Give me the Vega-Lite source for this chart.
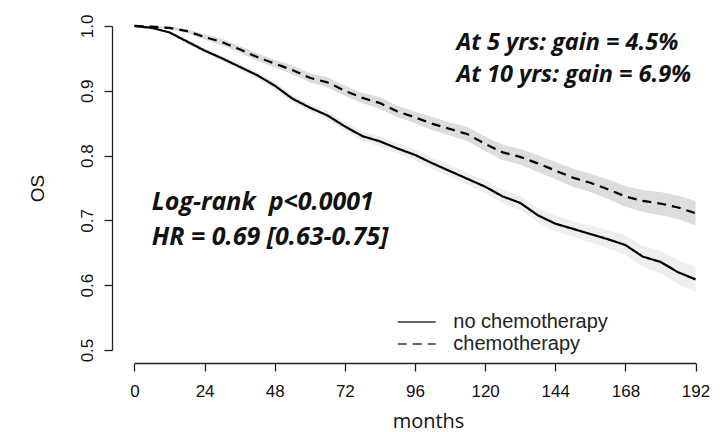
{
  "$schema": "https://vega.github.io/schema/vega-lite/v6.json",
  "width": 606,
  "height": 350,
  "autosize": {"type": "none"},
  "padding": {"left": 112, "top": 13, "right": 10, "bottom": 69},
  "background": "white",
  "config": {
    "view": {"stroke": null},
    "axis": {
      "grid": false,
      "domainColor": "#222",
      "domainWidth": 1.3,
      "tickColor": "#222",
      "tickWidth": 1.3,
      "tickSize": 8,
      "labelFont": "Liberation Sans",
      "labelFontSize": 17,
      "labelColor": "#111",
      "titleColor": "#111",
      "titleFontWeight": "normal"
    }
  },
  "datasets": {
    "km": [
      {"group": "no chemotherapy", "month": 0, "os": 1.0, "lo": 1.0, "hi": 1.0},
      {"group": "no chemotherapy", "month": 6, "os": 0.997, "lo": 0.996, "hi": 0.998},
      {"group": "no chemotherapy", "month": 12, "os": 0.990, "lo": 0.988, "hi": 0.992},
      {"group": "no chemotherapy", "month": 18, "os": 0.976, "lo": 0.973, "hi": 0.979},
      {"group": "no chemotherapy", "month": 24, "os": 0.962, "lo": 0.958, "hi": 0.966},
      {"group": "no chemotherapy", "month": 30, "os": 0.950, "lo": 0.946, "hi": 0.954},
      {"group": "no chemotherapy", "month": 36, "os": 0.937, "lo": 0.932, "hi": 0.942},
      {"group": "no chemotherapy", "month": 42, "os": 0.924, "lo": 0.919, "hi": 0.929},
      {"group": "no chemotherapy", "month": 48, "os": 0.908, "lo": 0.902, "hi": 0.914},
      {"group": "no chemotherapy", "month": 54, "os": 0.888, "lo": 0.882, "hi": 0.894},
      {"group": "no chemotherapy", "month": 60, "os": 0.874, "lo": 0.868, "hi": 0.880},
      {"group": "no chemotherapy", "month": 66, "os": 0.862, "lo": 0.855, "hi": 0.869},
      {"group": "no chemotherapy", "month": 72, "os": 0.845, "lo": 0.838, "hi": 0.852},
      {"group": "no chemotherapy", "month": 78, "os": 0.830, "lo": 0.823, "hi": 0.837},
      {"group": "no chemotherapy", "month": 84, "os": 0.822, "lo": 0.814, "hi": 0.830},
      {"group": "no chemotherapy", "month": 90, "os": 0.811, "lo": 0.803, "hi": 0.819},
      {"group": "no chemotherapy", "month": 96, "os": 0.801, "lo": 0.793, "hi": 0.809},
      {"group": "no chemotherapy", "month": 102, "os": 0.788, "lo": 0.779, "hi": 0.797},
      {"group": "no chemotherapy", "month": 108, "os": 0.776, "lo": 0.767, "hi": 0.785},
      {"group": "no chemotherapy", "month": 114, "os": 0.764, "lo": 0.755, "hi": 0.773},
      {"group": "no chemotherapy", "month": 120, "os": 0.752, "lo": 0.742, "hi": 0.762},
      {"group": "no chemotherapy", "month": 126, "os": 0.737, "lo": 0.727, "hi": 0.747},
      {"group": "no chemotherapy", "month": 132, "os": 0.727, "lo": 0.716, "hi": 0.738},
      {"group": "no chemotherapy", "month": 138, "os": 0.708, "lo": 0.697, "hi": 0.719},
      {"group": "no chemotherapy", "month": 144, "os": 0.695, "lo": 0.683, "hi": 0.707},
      {"group": "no chemotherapy", "month": 150, "os": 0.687, "lo": 0.675, "hi": 0.699},
      {"group": "no chemotherapy", "month": 156, "os": 0.679, "lo": 0.666, "hi": 0.692},
      {"group": "no chemotherapy", "month": 162, "os": 0.671, "lo": 0.657, "hi": 0.685},
      {"group": "no chemotherapy", "month": 168, "os": 0.662, "lo": 0.647, "hi": 0.677},
      {"group": "no chemotherapy", "month": 174, "os": 0.644, "lo": 0.628, "hi": 0.660},
      {"group": "no chemotherapy", "month": 180, "os": 0.636, "lo": 0.619, "hi": 0.653},
      {"group": "no chemotherapy", "month": 186, "os": 0.620, "lo": 0.602, "hi": 0.638},
      {"group": "no chemotherapy", "month": 192, "os": 0.609, "lo": 0.590, "hi": 0.628},
      {"group": "chemotherapy", "month": 0, "os": 1.0, "lo": 1.0, "hi": 1.0},
      {"group": "chemotherapy", "month": 6, "os": 0.999, "lo": 0.998, "hi": 1.0},
      {"group": "chemotherapy", "month": 12, "os": 0.997, "lo": 0.995, "hi": 0.999},
      {"group": "chemotherapy", "month": 18, "os": 0.992, "lo": 0.989, "hi": 0.995},
      {"group": "chemotherapy", "month": 24, "os": 0.983, "lo": 0.979, "hi": 0.987},
      {"group": "chemotherapy", "month": 30, "os": 0.975, "lo": 0.970, "hi": 0.980},
      {"group": "chemotherapy", "month": 36, "os": 0.964, "lo": 0.959, "hi": 0.969},
      {"group": "chemotherapy", "month": 42, "os": 0.952, "lo": 0.946, "hi": 0.958},
      {"group": "chemotherapy", "month": 48, "os": 0.942, "lo": 0.936, "hi": 0.948},
      {"group": "chemotherapy", "month": 54, "os": 0.932, "lo": 0.925, "hi": 0.939},
      {"group": "chemotherapy", "month": 60, "os": 0.920, "lo": 0.913, "hi": 0.927},
      {"group": "chemotherapy", "month": 66, "os": 0.913, "lo": 0.905, "hi": 0.921},
      {"group": "chemotherapy", "month": 72, "os": 0.900, "lo": 0.892, "hi": 0.908},
      {"group": "chemotherapy", "month": 78, "os": 0.889, "lo": 0.881, "hi": 0.897},
      {"group": "chemotherapy", "month": 84, "os": 0.881, "lo": 0.872, "hi": 0.890},
      {"group": "chemotherapy", "month": 90, "os": 0.868, "lo": 0.859, "hi": 0.877},
      {"group": "chemotherapy", "month": 96, "os": 0.859, "lo": 0.850, "hi": 0.868},
      {"group": "chemotherapy", "month": 102, "os": 0.849, "lo": 0.839, "hi": 0.859},
      {"group": "chemotherapy", "month": 108, "os": 0.841, "lo": 0.831, "hi": 0.851},
      {"group": "chemotherapy", "month": 114, "os": 0.833, "lo": 0.822, "hi": 0.844},
      {"group": "chemotherapy", "month": 120, "os": 0.818, "lo": 0.807, "hi": 0.829},
      {"group": "chemotherapy", "month": 126, "os": 0.805, "lo": 0.793, "hi": 0.817},
      {"group": "chemotherapy", "month": 132, "os": 0.798, "lo": 0.786, "hi": 0.810},
      {"group": "chemotherapy", "month": 138, "os": 0.788, "lo": 0.775, "hi": 0.801},
      {"group": "chemotherapy", "month": 144, "os": 0.777, "lo": 0.764, "hi": 0.790},
      {"group": "chemotherapy", "month": 150, "os": 0.766, "lo": 0.752, "hi": 0.780},
      {"group": "chemotherapy", "month": 156, "os": 0.758, "lo": 0.744, "hi": 0.772},
      {"group": "chemotherapy", "month": 162, "os": 0.748, "lo": 0.733, "hi": 0.763},
      {"group": "chemotherapy", "month": 168, "os": 0.737, "lo": 0.721, "hi": 0.753},
      {"group": "chemotherapy", "month": 174, "os": 0.730, "lo": 0.713, "hi": 0.747},
      {"group": "chemotherapy", "month": 180, "os": 0.726, "lo": 0.708, "hi": 0.744},
      {"group": "chemotherapy", "month": 186, "os": 0.720, "lo": 0.702, "hi": 0.738},
      {"group": "chemotherapy", "month": 192, "os": 0.711, "lo": 0.692, "hi": 0.730}
    ],
    "notes": [
      {"note": "At 5 yrs: gain = 4.5%"},
      {"note": "At 10 yrs: gain = 6.9%"},
      {"note": "Log-rank\u00a0 p<0.0001"},
      {"note": "HR = 0.69 [0.63-0.75]"}
    ]
  },
  "data": {"name": "km"},
  "layer": [
    {
      "transform": [{"filter": "datum.group === 'no chemotherapy'"}],
      "mark": {"type": "area", "color": "#eeeeee", "opacity": 1},
      "encoding": {
        "x": {
          "field": "month",
          "type": "quantitative",
          "scale": {"domain": [-7.68, 199.68], "nice": false, "zero": false},
          "axis": {
            "title": "months",
            "values": [0, 12, 24, 36, 48, 60, 72, 84, 96, 108, 120, 132, 144, 156, 168, 180, 192],
            "labelExpr": "datum.value % 24 === 0 ? datum.label : ''",
            "labelBaseline": "alphabetic",
            "labelPadding": 25,
            "labelFlush": false,
            "labelOverlap": false,
            "domainDash": [0, 22.45, 561.1, 200],
            "titleFont": "Open Sans",
            "titleFontSize": 20,
            "titleBaseline": "alphabetic",
            "titleX": 316,
            "titleY": 64
          }
        },
        "y": {
          "field": "lo",
          "type": "quantitative",
          "scale": {"domain": [0.48, 1.02], "nice": false, "zero": false},
          "axis": {
            "title": "OS",
            "values": [0.5, 0.6, 0.7, 0.8, 0.9, 1.0],
            "format": ".1f",
            "labelAngle": -90,
            "labelAlign": "center",
            "labelBaseline": "alphabetic",
            "labelPadding": 12,
            "labelFlush": false,
            "labelOverlap": false,
            "domainDash": [0, 12.96, 324.1, 200],
            "titleFont": "Liberation Sans",
            "titleFontSize": 19,
            "titleAngle": -90,
            "titleAlign": "center",
            "titleBaseline": "alphabetic",
            "titleX": -69,
            "titleY": 175
          }
        },
        "y2": {"field": "hi"}
      }
    },
    {
      "transform": [{"filter": "datum.group === 'chemotherapy'"}],
      "mark": {"type": "area", "color": "#dddddd", "opacity": 1},
      "encoding": {
        "x": {"field": "month", "type": "quantitative", "title": "months"},
        "y": {"field": "lo", "type": "quantitative", "title": "OS"},
        "y2": {"field": "hi"}
      }
    },
    {
      "mark": {"type": "line", "color": "black", "strokeWidth": 2.2},
      "encoding": {
        "x": {"field": "month", "type": "quantitative", "title": "months"},
        "y": {"field": "os", "type": "quantitative", "title": "OS"},
        "strokeDash": {
          "field": "group",
          "type": "nominal",
          "scale": {"domain": ["no chemotherapy", "chemotherapy"], "range": [[1, 0], [9, 6]]},
          "legend": {
            "title": null,
            "orient": "none",
            "legendX": 294.7,
            "legendY": 299,
            "padding": 0,
            "symbolType": "M-3,0H3",
            "symbolSize": 160,
            "symbolStrokeWidth": 1.5,
            "symbolStrokeColor": "#333",
            "symbolFillColor": "transparent",
            "labelFont": "Liberation Sans",
            "labelFontSize": 20,
            "labelColor": "#222",
            "labelOffset": 26.6
          }
        }
      }
    },
    {
      "data": {"name": "notes"},
      "transform": [{"filter": "datum.note === 'At 5 yrs: gain = 4.5%'"}],
      "mark": {"type": "text", "align": "left", "baseline": "alphabetic", "font": "Open Sans", "fontSize": 23.5, "fontWeight": "bold", "fontStyle": "italic", "fill": "#111"},
      "encoding": {"x": {"datum": 110.2, "type": "quantitative"}, "y": {"datum": 0.963, "type": "quantitative"}, "text": {"field": "note", "type": "nominal"}}
    },
    {
      "data": {"name": "notes"},
      "transform": [{"filter": "datum.note === 'At 10 yrs: gain = 6.9%'"}],
      "mark": {"type": "text", "align": "left", "baseline": "alphabetic", "font": "Open Sans", "fontSize": 23.5, "fontWeight": "bold", "fontStyle": "italic", "fill": "#111"},
      "encoding": {"x": {"datum": 110.2, "type": "quantitative"}, "y": {"datum": 0.9136, "type": "quantitative"}, "text": {"field": "note", "type": "nominal"}}
    },
    {
      "data": {"name": "notes"},
      "transform": [{"filter": "indexof(datum.note, 'Log-rank') === 0"}],
      "mark": {"type": "text", "align": "left", "baseline": "alphabetic", "font": "Open Sans", "fontSize": 25, "fontWeight": "bold", "fontStyle": "italic", "fill": "#111"},
      "encoding": {"x": {"datum": 5.95, "type": "quantitative"}, "y": {"datum": 0.716, "type": "quantitative"}, "text": {"field": "note", "type": "nominal"}}
    },
    {
      "data": {"name": "notes"},
      "transform": [{"filter": "datum.note === 'HR = 0.69 [0.63-0.75]'"}],
      "mark": {"type": "text", "align": "left", "baseline": "alphabetic", "font": "Open Sans", "fontSize": 25, "fontWeight": "bold", "fontStyle": "italic", "fill": "#111"},
      "encoding": {"x": {"datum": 5.95, "type": "quantitative"}, "y": {"datum": 0.662, "type": "quantitative"}, "text": {"field": "note", "type": "nominal"}}
    }
  ]
}
